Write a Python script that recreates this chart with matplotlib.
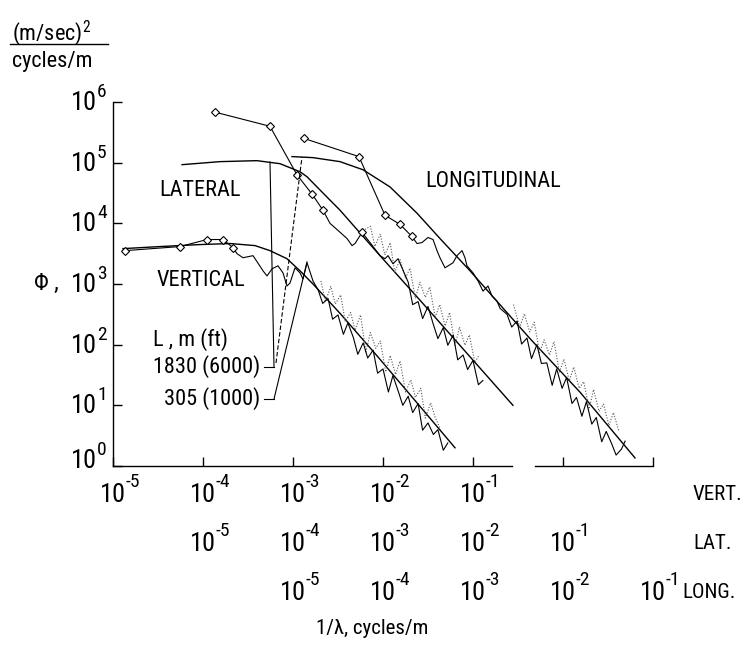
import numpy as np
import matplotlib
matplotlib.use("Agg")
import matplotlib.pyplot as plt
from matplotlib import font_manager
from matplotlib.ticker import FixedLocator, NullFormatter, NullLocator
import matplotlib.transforms as mtransforms

# ---------------- fonts ----------------
_names = {f.name for f in font_manager.fontManager.ttflist}
FAM = next((n for n in ["Liberation Sans Narrow", "Roboto Condensed",
                        "Open Sans Condensed", "Liberation Sans", "DejaVu Sans"]
            if n in _names), "DejaVu Sans")
plt.rcParams["font.family"] = [FAM, "DejaVu Sans"]
plt.rcParams["mathtext.fontset"] = "custom"
plt.rcParams["mathtext.rm"] = FAM
plt.rcParams["mathtext.it"] = FAM
plt.rcParams["mathtext.bf"] = FAM
plt.rcParams["mathtext.sf"] = FAM

# ---------------- data (log10 values) ----------------
# each component in its own frequency units; the LAT row is shifted 1 decade,
# the LONG row 2 decades relative to the VERT row.
LAT_SHIFT = 1
LONG_SHIFT = 2

# VERTICAL
vert_theory_logf = [-4.889, -4.478, -4.033, -3.700, -3.422, -3.256, -3.067, -2.922,
                    -2.778, -2.478, -2.067, -1.589, -1.2]
vert_theory_logphi = [3.583, 3.617, 3.65, 3.667, 3.633, 3.55, 3.417, 3.217,
                      3.0, 2.517, 1.817, 0.983, 0.3]
vert_meas_logf = [-4.867, -4.256, -3.956, -3.778, -3.667, -3.622, -3.556, -3.444, -3.333,
                  -3.289, -3.233, -3.167, -3.111, -3.067, -3.033, -2.978, -2.922, -2.889,
                  -2.844, -2.778, -2.72, -2.67, -2.61, -2.56, -2.50, -2.44, -2.39, -2.33,
                  -2.28, -2.22, -2.17, -2.11, -2.06, -2.00, -1.94, -1.89, -1.83, -1.78,
                  -1.72, -1.67, -1.61, -1.56, -1.50, -1.44, -1.39, -1.33, -1.28]
vert_meas_logphi = [3.55, 3.617, 3.733, 3.733, 3.6, 3.5, 3.433, 3.467, 3.217, 3.133, 3.25,
                    3.3, 3.183, 2.967, 3.017, 3.267, 3.183, 3.083, 3.35, 3.05, 2.90, 2.68,
                    2.76, 2.42, 2.49, 2.17, 2.36, 2.12, 1.84, 2.03, 1.78, 1.91, 1.53, 1.60,
                    1.22, 1.49, 1.23, 1.00, 1.15, 0.88, 1.03, 0.59, 0.71, 0.52, 0.60, 0.26,
                    0.38]
vert_diamonds = [0, 1, 2, 3, 4]
vert_alt_logf = [-2.69, -2.64, -2.58, -2.53, -2.47, -2.42, -2.36, -2.31, -2.25, -2.19,
                 -2.14, -2.08, -2.03, -1.97, -1.92, -1.86, -1.81, -1.75, -1.69, -1.64,
                 -1.58, -1.53, -1.47, -1.42, -1.36]
vert_alt_logphi = [3.05, 2.71, 2.96, 2.67, 2.82, 2.38, 2.53, 2.24, 2.49, 1.88, 2.20, 1.94,
                   2.06, 1.55, 1.82, 1.51, 1.73, 1.22, 1.42, 1.13, 1.28, 0.79, 1.04, 0.80,
                   0.60]

# LATERAL (own frequency units)
lat_theory_logf = [-5.233, -4.811, -4.4, -4.144, -3.922, -3.844, -3.667, -3.478, -3.033,
                   -2.589, -2.033, -1.556]
lat_theory_logphi = [4.967, 5.017, 5.033, 4.983, 4.85, 4.767, 4.5, 4.217, 3.467, 2.733,
                     1.8, 1.0]
lat_meas_logf = [-4.867, -4.256, -3.956, -3.789, -3.667, -3.589, -3.5, -3.4, -3.344, -3.311,
                 -3.233, -3.144, -3.033, -2.978, -2.944, -2.889, -2.833, -2.789, -2.72,
                 -2.67, -2.61, -2.56, -2.50, -2.44, -2.39, -2.33, -2.28, -2.22, -2.17,
                 -2.11, -2.06, -2.00, -1.94, -1.89]
lat_meas_logphi = [5.833, 5.6, 4.8, 4.483, 4.217, 4.0, 3.883, 3.75, 3.633, 3.667, 3.85,
                   3.683, 3.467, 3.417, 3.467, 3.333, 3.417, 3.267, 3.03, 2.66, 2.71, 2.43,
                   2.63, 2.33, 2.10, 2.28, 1.99, 2.16, 1.75, 1.83, 1.59, 1.74, 1.34, 1.41]
lat_diamonds = [0, 1, 2, 3, 4, 10]
lat_alt_logf = [-3.20, -3.14, -3.09, -3.03, -2.98, -2.92, -2.87, -2.81, -2.75, -2.70,
                -2.64, -2.59, -2.53, -2.48, -2.42, -2.37, -2.31, -2.26, -2.20, -2.15,
                -2.09, -2.04, -1.98, -1.93]
lat_alt_logphi = [3.90, 3.95, 3.62, 3.82, 3.48, 3.68, 3.20, 3.40, 3.10, 3.26, 2.76, 3.03,
                  2.78, 2.95, 2.45, 2.66, 2.31, 2.53, 1.98, 2.29, 1.99, 2.16, 1.71, 1.83]

# LONGITUDINAL (own frequency units)
long_theory_logf = [-5.011, -4.778, -4.478, -4.222, -3.922, -3.622, -3.367, -3.033, -2.367,
                    -1.811, -1.2]
long_theory_logphi = [5.1, 5.083, 5.017, 4.883, 4.6, 4.167, 3.75, 3.217, 2.1, 1.217, 0.133]
long_meas_logf = [-4.878, -4.267, -3.978, -3.811, -3.678, -3.622, -3.567, -3.5, -3.444,
                  -3.4, -3.367, -3.311, -3.222, -3.178, -3.122, -3.089, -3.067, -3.0,
                  -2.944, -2.889, -2.833, -2.789, -2.733, -2.7, -2.622, -2.57, -2.51,
                  -2.46, -2.40, -2.35, -2.29, -2.24, -2.18, -2.12, -2.07, -2.01, -1.96,
                  -1.90, -1.85, -1.79, -1.74, -1.68, -1.63, -1.57, -1.52, -1.46, -1.41,
                  -1.35, -1.31]
long_meas_logphi = [5.4, 5.1, 4.133, 3.983, 3.783, 3.667, 3.683, 3.767, 3.733, 3.55, 3.433,
                    3.267, 3.35, 3.467, 3.55, 3.433, 3.3, 3.183, 3.05, 2.883, 2.967, 2.8,
                    2.717, 2.6, 2.5, 2.29, 2.39, 2.01, 2.11, 1.77, 2.00, 1.69, 1.70, 1.33,
                    1.60, 1.28, 1.46, 1.03, 1.13, 0.82, 1.06, 0.69, 0.80, 0.40, 0.57, 0.37,
                    0.18, 0.28, 0.41]
long_diamonds = [0, 1, 2, 3, 4]
long_alt_logf = [-2.55, -2.48, -2.43, -2.37, -2.32, -2.26, -2.21, -2.15, -2.10, -2.04,
                 -1.99, -1.93, -1.88, -1.82, -1.77, -1.71, -1.66, -1.60, -1.55, -1.49,
                 -1.44, -1.38]
long_alt_logphi = [2.66, 2.29, 2.51, 2.21, 2.37, 1.87, 2.08, 1.83, 2.05, 1.55, 1.76, 1.41,
                   1.63, 1.28, 1.39, 0.94, 1.26, 0.90, 1.02, 0.67, 0.88, 0.58]

row_exponents = [-5, -4, -3, -2, -1]
row_shifts = [0, LAT_SHIFT, LONG_SHIFT]
row_names = ["VERT.", "LAT.", "LONG."]
y_exponents = [0, 1, 2, 3, 4, 5, 6]

# ---------------- figure ----------------
W, H = 744, 646
fig = plt.figure(figsize=(W / 100, H / 100), dpi=100)
L, R, B, T = 113, 653, 466, 102
ax = fig.add_axes([L / W, 1 - B / H, (R - L) / W, (B - T) / H])
ax.set_xscale("log")
ax.set_yscale("log")
ax.set_xlim(1e-5, 1e1)
ax.set_ylim(1e0, 1e6)


def pfig(x, y):
    return x / W, 1 - y / H


def draw_component(lf, lp, shift, ls="-", color="k", lw=0.8, **kw):
    x = np.power(10.0, np.asarray(lf) + shift)
    y = np.power(10.0, np.asarray(lp))
    ax.plot(x, y, ls=ls, color=color, lw=lw, **kw)


dkw = dict(marker="D", ms=4.2, mfc="white", mec="k", mew=0.8)
comps = [
    (vert_theory_logf, vert_theory_logphi, vert_meas_logf, vert_meas_logphi, vert_diamonds,
     vert_alt_logf, vert_alt_logphi, 0),
    (lat_theory_logf, lat_theory_logphi, lat_meas_logf, lat_meas_logphi, lat_diamonds,
     lat_alt_logf, lat_alt_logphi, LAT_SHIFT),
    (long_theory_logf, long_theory_logphi, long_meas_logf, long_meas_logphi, long_diamonds,
     long_alt_logf, long_alt_logphi, LONG_SHIFT),
]
for tf, tp, mf, mp, di, af, ap, sh in comps:
    draw_component(tf, tp, sh, lw=1.0)
    draw_component(af, ap, sh, ls=(0, (1, 1.5)), color="0.35", lw=0.8)
    draw_component(mf, mp, sh, lw=0.8, markevery=di, **dkw)

# ---------------- axes styling ----------------
for s in ["top", "right", "bottom"]:
    ax.spines[s].set_visible(False)
ax.spines["left"].set_linewidth(1.0)
# bottom axis line with the small break seen in the original
ax.plot([0, 0.739], [0, 0], transform=ax.transAxes, color="k", lw=1.0, clip_on=False)
ax.plot([0.781, 1.0], [0, 0], transform=ax.transAxes, color="k", lw=1.0, clip_on=False)

ax.xaxis.set_major_locator(FixedLocator([10.0 ** e for e in range(-5, 2)]))
ax.xaxis.set_major_formatter(NullFormatter())
ax.xaxis.set_minor_locator(NullLocator())
ax.yaxis.set_major_locator(FixedLocator([10.0 ** e for e in y_exponents]))
ax.yaxis.set_major_formatter(NullFormatter())
ax.yaxis.set_minor_locator(NullLocator())
ax.tick_params(axis="both", direction="in", length=6.5, width=1.0)

BASE_FS, EXP_FS = 19, 14


def off(dx, dy):
    # offset in pixels (dy positive = downward)
    return mtransforms.ScaledTranslation(dx / 100, -dy / 100, fig.dpi_scale_trans)


# frequency label rows (VERT / LAT / LONG)
bx = mtransforms.blended_transform_factory(ax.transData, ax.transAxes)
for row, sh in enumerate(row_shifts):
    dy = 49 * row
    for e in row_exponents:
        xv = 10.0 ** (e + sh)
        ax.text(xv, 0, "10", transform=bx + off(0, 36 + dy), ha="center",
                va="baseline", fontsize=BASE_FS, clip_on=False)
        ax.text(xv, 0, "%d" % e, transform=bx + off(13, 21 + dy), ha="left",
                va="baseline", fontsize=EXP_FS, clip_on=False)
name_x = [693, 693, 682]
for i, name in enumerate(row_names):
    fig.text(*pfig(name_x[i], 500 + 49 * i), name, ha="left", va="baseline", fontsize=15)

# y tick labels
by = mtransforms.blended_transform_factory(ax.transAxes, ax.transData)
for e in y_exponents:
    dyb = 2 if e == 0 else 8
    ax.text(0, 10.0 ** e, "10", transform=by + off(-16, dyb), ha="right",
            va="baseline", fontsize=BASE_FS, clip_on=False)
    ax.text(0, 10.0 ** e, "%d" % e, transform=by + off(-16, dyb - 13), ha="left",
            va="baseline", fontsize=EXP_FS, clip_on=False)

fig.text(*pfig(372, 628), "1/\u03bb, cycles/m", ha="center", va="center", fontsize=15)

# y-axis unit label
fig.text(*pfig(12, 33), r"(m/sec)$^2$", ha="left", va="center", fontsize=16)
fig.add_artist(plt.Line2D([10 / W, 108 / W], [1 - 44 / H, 1 - 44 / H], color="k", lw=1.0))
fig.text(*pfig(12, 61), "cycles/m", ha="left", va="center", fontsize=16)
fig.text(*pfig(34, 283), "\u03a6 ,", ha="left", va="center", fontsize=17)

# curve labels
fig.text(*pfig(200, 190), "LATERAL", ha="center", va="center", fontsize=16)
fig.text(*pfig(201, 280), "VERTICAL", ha="center", va="center", fontsize=16)
fig.text(*pfig(493, 182), "LONGITUDINAL", ha="center", va="center", fontsize=16)
fig.text(*pfig(153, 340), "L , m (ft)", ha="left", va="center", fontsize=16)
fig.text(*pfig(260, 367), "1830 (6000)", ha="right", va="center", fontsize=16)
fig.text(*pfig(260, 399), "305 (1000)", ha="right", va="center", fontsize=16)


# leader lines (axes fractions)
def fx(px):
    return (px - L) / (R - L)


def fy(py):
    return (B - py) / (B - T)


lk = dict(transform=ax.transAxes, color="k", lw=0.8, clip_on=False)
ax.plot([fx(264), fx(274)], [fy(367), fy(367)], **lk)
ax.plot([fx(274), fx(270)], [fy(367), fy(162)], **lk)
ax.plot([fx(276), fx(302)], [fy(363), fy(157)], ls=(0, (4, 2)), **lk)
ax.plot([fx(264), fx(274)], [fy(399), fy(399)], **lk)
ax.plot([fx(274), fx(307)], [fy(399), fy(262)], **lk)

fig.savefig("out.png", dpi=100)
